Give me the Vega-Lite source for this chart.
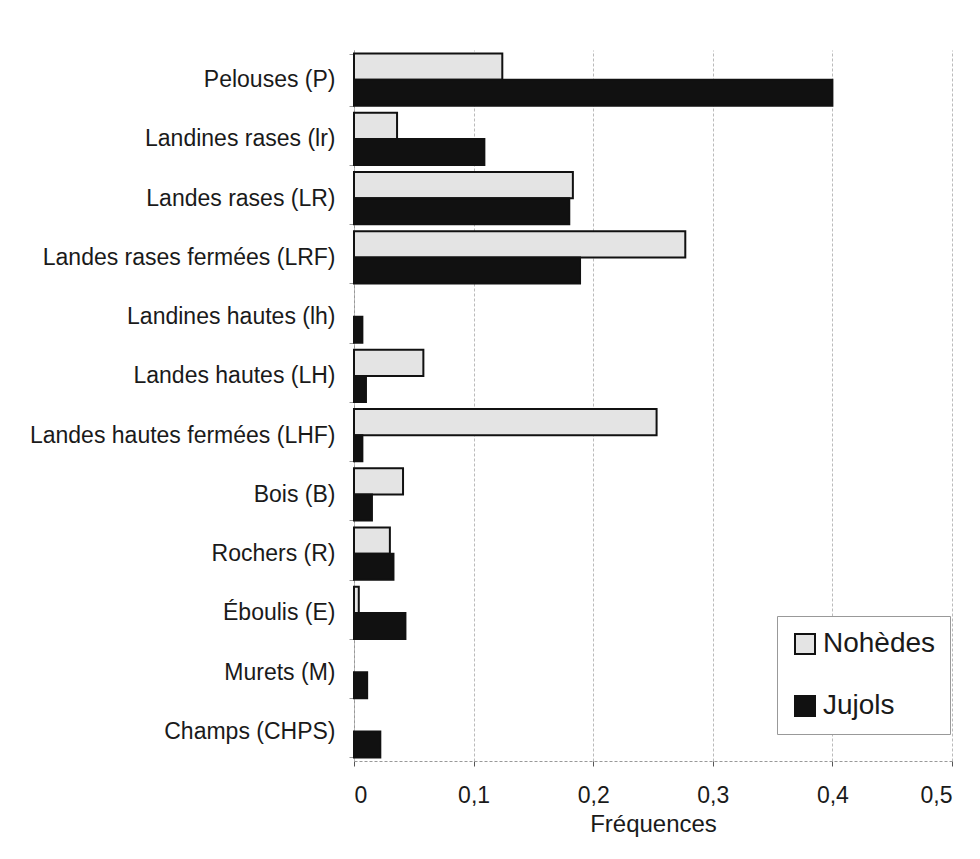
{
  "$schema": "https://vega.github.io/schema/vega-lite/v6.json",
  "width": 598,
  "height": 711,
  "autosize": {"type": "none"},
  "padding": {"left": 354, "top": 50, "right": 28, "bottom": 98},
  "background": "#ffffff",
  "view": {"stroke": null},
  "data": {
    "values": [
      {"milieu": "Pelouses (P)", "site": "Nohèdes", "freq": 0.124},
      {"milieu": "Pelouses (P)", "site": "Jujols", "freq": 0.4},
      {"milieu": "Landines rases (lr)", "site": "Nohèdes", "freq": 0.036},
      {"milieu": "Landines rases (lr)", "site": "Jujols", "freq": 0.109},
      {"milieu": "Landes rases (LR)", "site": "Nohèdes", "freq": 0.183},
      {"milieu": "Landes rases (LR)", "site": "Jujols", "freq": 0.18},
      {"milieu": "Landes rases fermées (LRF)", "site": "Nohèdes", "freq": 0.277},
      {"milieu": "Landes rases fermées (LRF)", "site": "Jujols", "freq": 0.189},
      {"milieu": "Landines hautes (lh)", "site": "Nohèdes", "freq": 0},
      {"milieu": "Landines hautes (lh)", "site": "Jujols", "freq": 0.007},
      {"milieu": "Landes hautes (LH)", "site": "Nohèdes", "freq": 0.058},
      {"milieu": "Landes hautes (LH)", "site": "Jujols", "freq": 0.01},
      {"milieu": "Landes hautes fermées (LHF)", "site": "Nohèdes", "freq": 0.253},
      {"milieu": "Landes hautes fermées (LHF)", "site": "Jujols", "freq": 0.007},
      {"milieu": "Bois (B)", "site": "Nohèdes", "freq": 0.041},
      {"milieu": "Bois (B)", "site": "Jujols", "freq": 0.015},
      {"milieu": "Rochers (R)", "site": "Nohèdes", "freq": 0.03},
      {"milieu": "Rochers (R)", "site": "Jujols", "freq": 0.033},
      {"milieu": "Éboulis (E)", "site": "Nohèdes", "freq": 0.004},
      {"milieu": "Éboulis (E)", "site": "Jujols", "freq": 0.043},
      {"milieu": "Murets (M)", "site": "Nohèdes", "freq": 0},
      {"milieu": "Murets (M)", "site": "Jujols", "freq": 0.011},
      {"milieu": "Champs (CHPS)", "site": "Nohèdes", "freq": 0},
      {"milieu": "Champs (CHPS)", "site": "Jujols", "freq": 0.022}
    ]
  },
  "transform": [{"filter": "datum.freq > 0"}],
  "mark": {"type": "bar", "stroke": "#111111", "strokeWidth": 2},
  "encoding": {
    "y": {
      "field": "milieu",
      "type": "nominal",
      "sort": [
        "Pelouses (P)", "Landines rases (lr)", "Landes rases (LR)",
        "Landes rases fermées (LRF)", "Landines hautes (lh)", "Landes hautes (LH)",
        "Landes hautes fermées (LHF)", "Bois (B)", "Rochers (R)", "Éboulis (E)",
        "Murets (M)", "Champs (CHPS)"
      ],
      "scale": {"paddingInner": 0.12, "paddingOuter": 0.06},
      "axis": {
        "title": null,
        "tickBand": "extent",
        "tickSize": 5,
        "tickColor": "#999999",
        "domainColor": "#999999",
        "domainDash": [3, 2],
        "labelPadding": 14,
        "labelLimit": 400,
        "labelFontSize": 23,
        "labelFont": "Liberation Sans",
        "labelColor": "#1a1a1a",
        "grid": false
      }
    },
    "yOffset": {
      "field": "site",
      "type": "nominal",
      "scale": {"domain": ["Nohèdes", "Jujols"], "paddingInner": 0, "paddingOuter": 0}
    },
    "x": {
      "field": "freq",
      "type": "quantitative",
      "scale": {"domain": [0, 0.5], "nice": false},
      "axis": {
        "title": "Fréquences",
        "values": [0, 0.1, 0.2, 0.3, 0.4, 0.5],
        "labelExpr": "replace(format(datum.value, '~g'), '.', ',')",
        "grid": true,
        "gridColor": "#bbbbbb",
        "gridDash": [3, 2],
        "gridWidth": 1,
        "domainColor": "#999999",
        "domainDash": [3, 2],
        "tickColor": "#555555",
        "tickSize": 5,
        "labelPadding": 18,
        "labelFontSize": 23,
        "labelFont": "Liberation Sans",
        "labelColor": "#1a1a1a",
        "titleFontSize": 24,
        "titleFont": "Liberation Sans",
        "titleFontWeight": "normal",
        "titleColor": "#1a1a1a",
        "titlePadding": 5
      }
    },
    "color": {
      "field": "site",
      "type": "nominal",
      "scale": {"domain": ["Nohèdes", "Jujols"], "range": ["#e4e4e4", "#111111"]},
      "legend": {
        "title": null,
        "orient": "none",
        "legendX": 423,
        "legendY": 566,
        "direction": "vertical",
        "symbolType": "square",
        "symbolSize": 400,
        "symbolStrokeColor": "#111111",
        "symbolStrokeWidth": 2,
        "labelFontSize": 28,
        "labelFont": "Liberation Sans",
        "labelColor": "#1a1a1a",
        "labelOffset": 4,
        "rowPadding": 34,
        "padding": 14,
        "strokeColor": "#999999",
        "fillColor": "#ffffff"
      }
    }
  }
}
